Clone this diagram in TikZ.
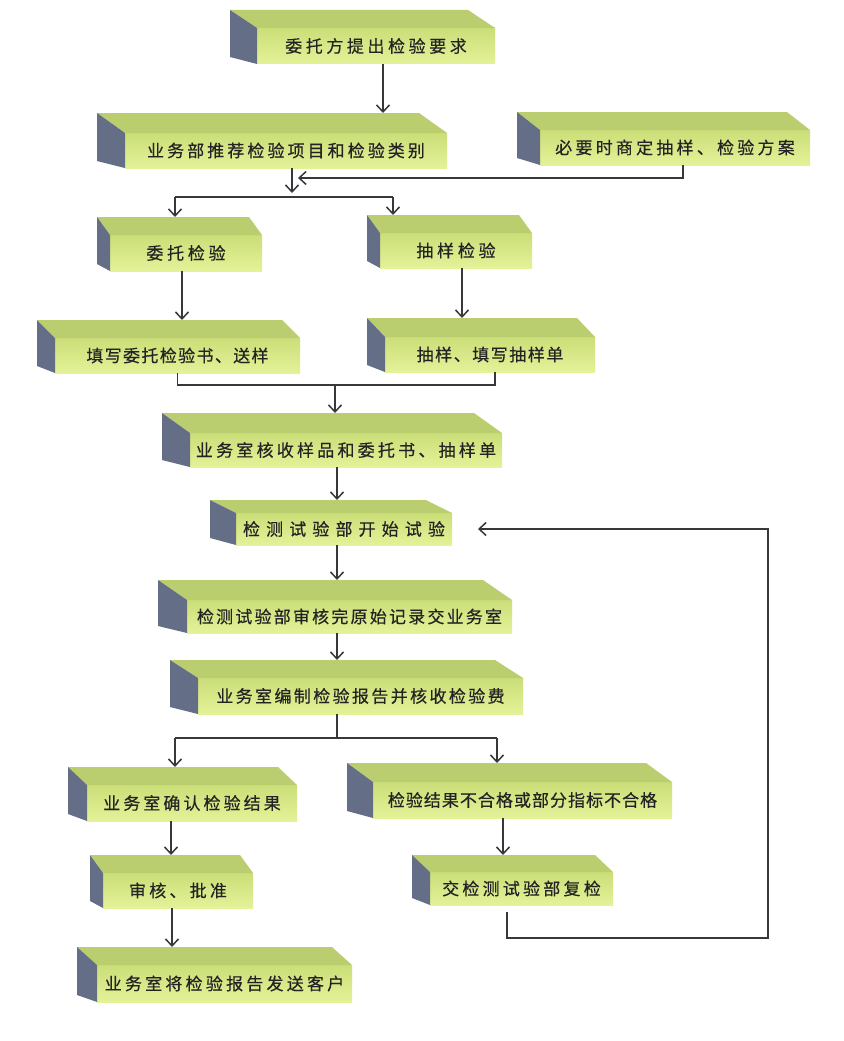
\documentclass[tikz,border=0pt]{standalone}
\usepackage{fontspec}
\usepackage{tikz}
\usetikzlibrary{arrows.meta, calc}
\newfontfamily\cjk[FakeBold=0.4]{Noto Sans CJK SC}
\definecolor{boxFT}{RGB}{202,222,120}
\definecolor{boxFB}{RGB}{228,242,152}
\definecolor{boxTop}{RGB}{186,206,112}
\definecolor{boxSide}{RGB}{100,110,134}
\definecolor{lineC}{RGB}{55,55,60}
\definecolor{txtC}{RGB}{35,35,35}
% 3D box: name, cx, cy, width, height, depth, rise, letter space, text
\newcommand{\tbox}[9]{%
  \node[frontface, minimum width=#4pt, minimum height=#5pt,
    font={\cjk\fontsize{17pt}{19pt}\selectfont\addfontfeatures{LetterSpace=#8}}] (#1) at (#2,#3) {#9};
  \fill[boxTop] (#1.north west) -- ++(-#6,-#7) -- ($(#1.north east)+(-#6,-#7)$) -- (#1.north east) -- cycle;
  \fill[boxSide] (#1.north west) -- ++(-#6,-#7) -- ($(#1.south west)+(-#6,-7)$) -- (#1.south west) -- cycle;
  \coordinate (#1-t) at ($(#1.north)+(0,-#7)$);
}

\begin{document}
\begin{tikzpicture}[x=1pt, y=-1pt,
  frontface/.style={inner sep=0pt, outer sep=0pt, top color=boxFT, bottom color=boxFB, text=txtC},
  conn/.style={draw=lineC, line width=1.6pt},
  arr/.style={conn, -{Straight Barb[length=7pt, width=13pt, line width=1.5pt]}}]
\useasboundingbox[fill=white] (0,0) rectangle (843,1041);
% boxes
\tbox{req}{376}{46}{238}{36}{27}{18}{21}{委托方提出检验要求}
\tbox{rec}{286}{150.5}{322}{35}{28}{20}{18}{业务部推荐检验项目和检验类别}
\tbox{plan}{675}{147.5}{270}{35}{23}{18}{19}{必要时商定抽样、检验方案}
\tbox{ent}{186}{253}{152}{36}{13}{18}{22}{委托检验}
\tbox{samp}{456}{250.5}{152}{35}{13}{18}{22}{抽样检验}
\tbox{form}{177.5}{355.5}{245}{35}{18}{18}{8}{填写委托检验书、送样}
\tbox{sheet}{490}{354.5}{210}{35}{18}{19}{9}{抽样、填写抽样单}
\tbox{recv}{346}{450}{312}{34}{28}{20}{19}{业务室核收样品和委托书、抽样单}
\tbox{test}{344}{529}{216}{32}{26}{13}{36}{检测试验部开始试验}
\tbox{rev}{349.5}{616.5}{325}{33}{29}{20}{13}{检测试验部审核完原始记录交业务室}
\tbox{rep}{360.5}{696}{325}{36}{28}{18}{14}{业务室编制检验报告并核收检验费}
\tbox{conf}{192}{803}{210}{36}{19}{18}{18}{业务室确认检验结果}
\tbox{fail}{522.5}{800}{299}{36}{26}{19}{6}{检验结果不合格或部分指标不合格}
\tbox{appr}{178}{890.5}{150}{35}{13}{18}{19}{审核、批准}
\tbox{retest}{521.5}{888.5}{183}{33}{18}{17}{19}{交检测试验部复检}
\tbox{send}{224.5}{983.5}{255}{37}{20}{18}{19}{业务室将检验报告发送客户}
% junction points
\coordinate (split1) at (292,197);
\coordinate (split1L) at (175,197);
\coordinate (split1R) at (393,197);
\coordinate (join1) at (298,178);
\coordinate (merge1) at (335,385);
\coordinate (split2) at (337,738);
\coordinate (split2L) at (175,738);
\coordinate (split2R) at (497,738);
\coordinate (loopc) at (768,938);
% upper part
\draw[arr] ([xshift=7pt]req.south) -- ([xshift=7pt]req.south |- rec-t);
\draw[arr, shorten >=4pt] (split1 |- rec.south) -- (split1);
\draw[conn] (split1L) -- (split1R);
\draw[arr] (split1L) -- (split1L |- ent-t);
\draw[arr] (split1R) -- (split1R |- samp-t);
\draw[arr] ([xshift=8pt]plan.south) |- (join1);
\draw[arr] ([xshift=-4pt]ent.south) -- ([xshift=-4pt]ent.south |- form-t);
\draw[arr] ([xshift=6pt]samp.south) -- ([xshift=6pt]samp.south |- sheet-t);
\draw[conn] (form.south) |- (merge1) -| ([xshift=5pt]sheet.south);
\draw[arr] (merge1) -- (merge1 |- recv-t);
% middle part
\draw[arr] ([xshift=-9pt]recv.south) -- ([xshift=-9pt]recv.south |- test-t);
\draw[arr] ([xshift=-7pt]test.south) -- ([xshift=-7pt]test.south |- rev-t);
\draw[arr] ([xshift=-12.5pt]rev.south) -- ([xshift=-12.5pt]rev.south |- rep-t);
\draw[conn] (split2 |- rep.south) -- (split2);
\draw[conn] (split2L) -- (split2R);
\draw[arr] (split2L) -- (split2L |- conf-t);
\draw[arr] (split2R) -- (split2R |- fail-t);
% lower part
\draw[arr] ([xshift=-21pt]conf.south) -- ([xshift=-21pt]conf.south |- appr-t);
\draw[arr] ([xshift=-6pt]appr.south) -- ([xshift=-6pt]appr.south |- send-t);
\draw[arr] ([xshift=-19.5pt]fail.south) -- ([xshift=-19.5pt]fail.south |- retest-t);
\draw[arr] ([xshift=-14.5pt, yshift=-7pt]retest.south) |- (loopc) |- ([xshift=26pt]test.east);
\end{tikzpicture}
\end{document}
